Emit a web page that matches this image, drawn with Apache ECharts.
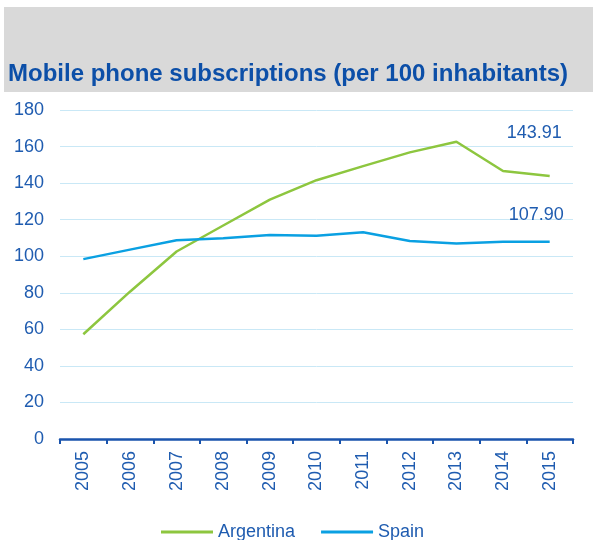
<!DOCTYPE html>
<html>
<head>
<meta charset="utf-8">
<script src="https://cdn.jsdelivr.net/npm/echarts@6/dist/echarts.min.js"></script>
<style>
  html, body { margin: 0; padding: 0; background: #ffffff; }
  #chart { width: 593px; height: 540px; }
</style>
</head>
<body>
<div id="chart"></div>
<script>
// Mobile phone subscriptions per 100 inhabitants, 2005–2015
const years = ['2005', '2006', '2007', '2008', '2009', '2010', '2011', '2012', '2013', '2014', '2015'];
const argentina = [57.3, 80.6, 102.6, 116.8, 131.0, 141.6, 149.3, 156.8, 162.6, 146.6, 143.91];
const spain = [98.4, 103.6, 108.7, 109.8, 111.6, 111.2, 113.1, 108.3, 106.9, 107.9, 107.90];
const yTicks = [0, 20, 40, 60, 80, 100, 120, 140, 160, 180];

const textBlue = '#1f5cb0';
const font = 'Liberation Sans, Arial, sans-serif';

// Value label shown at the end of each line
function endLabel(offset) {
  return {
    show: true,
    offset: offset,
    formatter: (p) => Number(p.value).toFixed(2),
    color: textBlue,
    fontSize: 18,
    fontFamily: font
  };
}

const chart = echarts.init(document.getElementById('chart'));
chart.setOption({
  animation: false,
  backgroundColor: '#ffffff',
  graphic: [
    { type: 'rect', left: 4, top: 7, shape: { width: 589, height: 85 }, style: { fill: '#d9d9d9' }, z: -1 },
    {
      type: 'text', left: 8, top: 62,
      style: {
        text: 'Mobile phone subscriptions (per 100 inhabitants)',
        fill: '#0c4fa8', font: 'bold 24px ' + font
      }
    }
  ],
  grid: { left: 60, right: 20, top: 110, bottom: 101 },
  legend: {
    top: 518, left: 156, itemGap: 26,
    itemWidth: 52, itemHeight: 3,
    icon: 'rect',
    textStyle: { color: textBlue, fontSize: 18, fontFamily: font },
    data: ['Argentina', 'Spain']
  },
  xAxis: {
    type: 'category',
    data: years,
    boundaryGap: true,
    axisLine: { lineStyle: { color: '#1a54ad', width: 2.5 } },
    axisTick: { show: true, length: 5, lineStyle: { color: '#1a54ad', width: 2 } },
    axisLabel: { rotate: 90, color: textBlue, fontSize: 18, fontFamily: font, margin: 12 }
  },
  yAxis: {
    type: 'value',
    min: yTicks[0], max: yTicks[yTicks.length - 1], interval: 20,
    axisLine: { show: false },
    axisTick: { show: false },
    axisLabel: { color: textBlue, fontSize: 18, fontFamily: font, margin: 16 },
    splitLine: { lineStyle: { color: '#c9e8f6', width: 1 } }
  },
  series: [
    {
      name: 'Argentina', type: 'line', data: argentina,
      symbol: 'none',
      lineStyle: { color: '#8dc63f', width: 2.5 }, itemStyle: { color: '#8dc63f' },
      endLabel: endLabel([-51, -43])
    },
    {
      name: 'Spain', type: 'line', data: spain,
      symbol: 'none',
      lineStyle: { color: '#0aa0e2', width: 2.5 }, itemStyle: { color: '#0aa0e2' },
      endLabel: endLabel([-49, -27])
    }
  ]
});
</script>
</body>
</html>
